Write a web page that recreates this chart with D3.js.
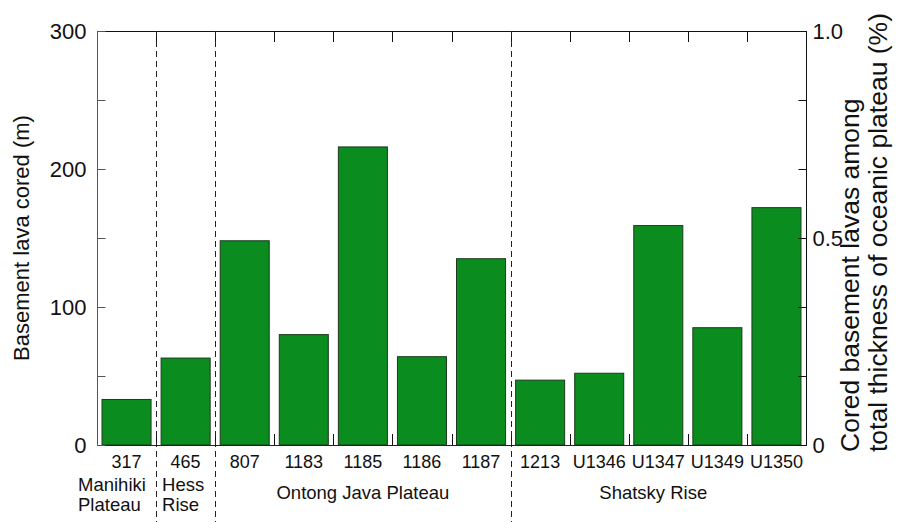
<!DOCTYPE html>
<html>
<head>
<meta charset="utf-8">
<script src="https://cdn.jsdelivr.net/npm/d3@7"></script>
<style>
  html, body { margin: 0; padding: 0; background: #fff; }
  svg { display: block; font-family: "Liberation Sans", Arial, Helvetica, sans-serif; }
</style>
</head>
<body>
<svg id="chart" width="897" height="522"></svg>
<script>
// Drill sites (x categories) and basement lava recovered at each (m)
const sites = ["317", "465", "807", "1183", "1185", "1186", "1187", "1213", "U1346", "U1347", "U1349", "U1350"];
const lavaCored = [33, 63, 148, 80, 216, 64, 135, 47, 52, 159, 85, 172];

// Plateau groups: label lines, first/last site index
const groupLabels = [["Manihiki", "Plateau"], ["Hess", "Rise"], ["Ontong Java Plateau"], ["Shatsky Rise"]];
const groupFirst = [0, 1, 2, 7];
const groupLast = [0, 1, 6, 11];

// Axis tick values
const leftTicks = [0, 50, 100, 150, 200, 250, 300];
const leftLabels = [0, 100, 200, 300];
const rightLabels = [0, 0.5, 1.0];

const svg = d3.select("#chart");
const m = { left: 97, right: 806, top: 31, bottom: 445 };

const x = d3.scaleBand().domain(sites).range([m.left, m.right])
  .paddingInner(0.17).paddingOuter(0.085);
const y = d3.scaleLinear().domain([0, 300]).range([m.bottom, m.top]);
// right axis: cored fraction of plateau thickness (%), same pixel span
const y2 = d3.scaleLinear().domain([0, 1]).range([m.bottom, m.top]);

const step = x.step();
const slotLeft = i => m.left + i * step;

// bars
svg.append("g").selectAll("rect").data(sites).join("rect")
  .attr("x", d => x(d))
  .attr("y", (d, i) => y(lavaCored[i]))
  .attr("width", x.bandwidth())
  .attr("height", (d, i) => y(0) - y(lavaCored[i]))
  .attr("fill", "#0b8c1f")
  .attr("stroke", "#1d3a1d")
  .attr("stroke-width", 1);

// frame
const frame = svg.append("g").attr("fill", "none").attr("stroke-width", 1);
frame.append("line").attr("x1", m.left).attr("x2", m.right).attr("y1", m.top + 0.5).attr("y2", m.top + 0.5).attr("stroke", "#111");
frame.append("line").attr("x1", m.left).attr("x2", m.right).attr("y1", m.bottom + 0.5).attr("y2", m.bottom + 0.5).attr("stroke", "#222");
frame.append("line").attr("x1", m.left + 0.5).attr("x2", m.left + 0.5).attr("y1", m.top).attr("y2", m.bottom + 1).attr("stroke", "#555");
frame.append("line").attr("x1", m.right + 0.5).attr("x2", m.right + 0.5).attr("y1", m.top).attr("y2", m.bottom + 1).attr("stroke", "#111");

// left axis (inward ticks)
const yAxis = d3.axisRight(y).tickValues(leftTicks).tickSize(8)
  .tickFormat(d => leftLabels.includes(d) ? d : "");
const gy = svg.append("g").attr("transform", `translate(${m.left + 0.5},0)`).call(yAxis);
gy.select(".domain").remove();
gy.selectAll(".tick line").attr("stroke", "#555");
gy.selectAll(".tick text").attr("x", -11).attr("text-anchor", "end")
  .attr("font-size", 22).attr("fill", "#111").attr("dy", "0.35em");

// right axis (inward ticks, same spacing as left)
const yAxis2 = d3.axisLeft(y2).tickValues(leftTicks.map(v => v / 300)).tickSize(8)
  .tickFormat(d => {
    const hit = rightLabels.find(r => Math.abs(r - d) < 1e-9);
    return hit === undefined ? "" : (hit === 0 ? "0" : d3.format(".1f")(hit));
  });
const gy2 = svg.append("g").attr("transform", `translate(${m.right + 0.5},0)`).call(yAxis2);
gy2.select(".domain").remove();
gy2.selectAll(".tick line").attr("stroke", "#111");
gy2.selectAll(".tick text").attr("x", 6).attr("text-anchor", "start")
  .attr("font-size", 22).attr("fill", "#111").attr("dy", "0.35em");

// category boundary ticks along top and bottom
const bounds = d3.range(1, sites.length).map(i => slotLeft(i));
svg.append("g").selectAll("line").data(bounds).join("line")
  .attr("x1", d => Math.round(d) + 0.5).attr("x2", d => Math.round(d) + 0.5)
  .attr("y1", m.top).attr("y2", m.top + 11).attr("stroke", "#111");
svg.append("g").selectAll("line").data(bounds).join("line")
  .attr("x1", d => Math.round(d) + 0.5).attr("x2", d => Math.round(d) + 0.5)
  .attr("y1", m.bottom).attr("y2", m.bottom - 11).attr("stroke", "#111");

// dashed dividers between plateau groups
const dividers = groupFirst.slice(1).map(i => slotLeft(i));
svg.append("g").selectAll("line").data(dividers).join("line")
  .attr("x1", d => Math.round(d) + 0.5).attr("x2", d => Math.round(d) + 0.5)
  .attr("y1", m.top).attr("y2", 522)
  .attr("stroke", "#222").attr("stroke-width", 1).attr("stroke-dasharray", "6,4");

// site labels
svg.append("g").selectAll("text").data(sites).join("text")
  .attr("x", d => x(d) + x.bandwidth() / 2)
  .attr("y", 468)
  .attr("text-anchor", "middle")
  .attr("font-size", 18).attr("fill", "#111")
  .text(d => d);

// group labels
groupLabels.forEach((lines, g) => {
  const x0 = slotLeft(groupFirst[g]);
  const x1 = slotLeft(groupLast[g] + 1);
  const single = lines.length === 1;
  const t = svg.append("text")
    .attr("font-size", 18.5).attr("fill", "#111")
    .attr("text-anchor", single ? "middle" : "start");
  lines.forEach((s, k) => {
    t.append("tspan")
      .attr("x", single ? (x0 + x1) / 2 - (g === 3 ? 5 : 0) : x0 + (g === 0 ? -19 : 6))
      .attr("y", single ? 499 : 491 + k * 20)
      .text(s);
  });
});

// axis titles
svg.append("text")
  .attr("transform", `translate(29,${(m.top + m.bottom) / 2}) rotate(-90)`)
  .attr("text-anchor", "middle").attr("font-size", 22).attr("fill", "#111")
  .text("Basement lava cored (m)");

const rt = svg.append("text")
  .attr("transform", `translate(859,452) rotate(-90)`)
  .attr("text-anchor", "start").attr("font-size", 26.5).attr("fill", "#111");
rt.append("tspan").attr("x", 0).attr("y", 0).text("Cored basement lavas among");
rt.append("tspan").attr("x", 0).attr("y", 28).text("total thickness of oceanic plateau (%)");
</script>
</body>
</html>
